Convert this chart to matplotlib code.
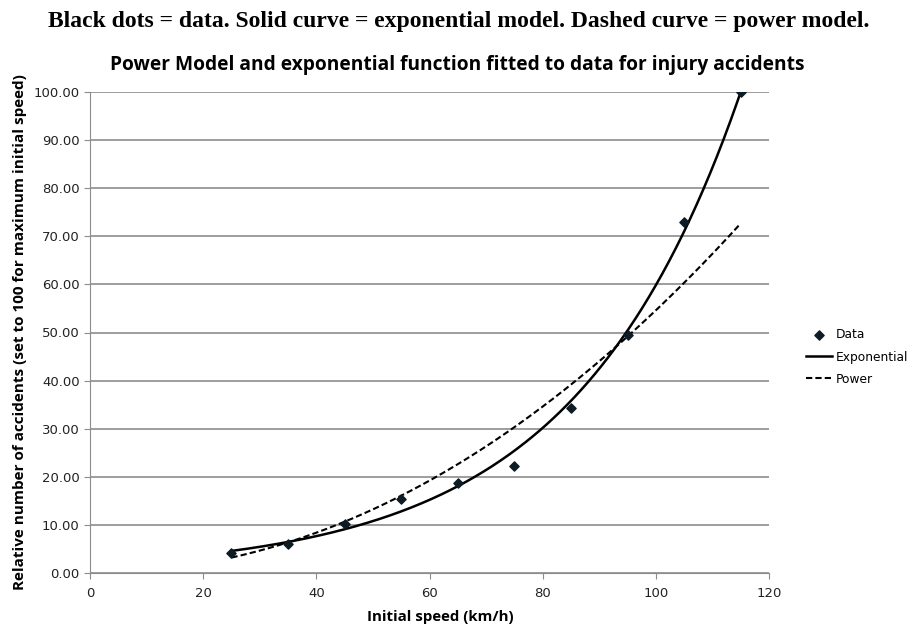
import numpy as np
import matplotlib
matplotlib.use("Agg")
import matplotlib.pyplot as plt

speed = [25, 35, 45, 55, 65, 75, 85, 95, 105, 115]
accidents = [4.2, 6.0, 10.2, 15.3, 18.7, 22.3, 34.3, 49.5, 72.9, 100.0]
y_ticks = [0, 10, 20, 30, 40, 50, 60, 70, 80, 90, 100]
x_ticks = [0, 20, 40, 60, 80, 100, 120]

x = np.array(speed, dtype=float)
y = np.array(accidents, dtype=float)
# Fitted models (least squares in log space, like a spreadsheet trendline)
b_exp, lna_exp = np.polyfit(x, np.log(y), 1)
b_pow, lna_pow = np.polyfit(np.log(x), np.log(y), 1)
xs = np.linspace(x.min(), x.max(), 300)
y_exp = np.exp(lna_exp) * np.exp(b_exp * xs)
y_pow = np.exp(lna_pow) * xs ** b_pow

fig = plt.figure(figsize=(9.09, 6.24), dpi=100)
ax = fig.add_axes([90/909, 1-573/624, (769-90)/909, (573-92)/624])

for t in y_ticks:
    ax.axhline(t, color="#8c8c8c", lw=1.2, zorder=0)
ax.plot(xs, y_exp, color="black", lw=1.8, label="Exponential")
ax.plot(xs, y_pow, color="black", lw=1.5, ls=(0, (3, 1.5)), label="Power")
ax.scatter(x, y, marker="D", s=22, color="#0d1b24", zorder=3, label="Data")

ax.set_xlim(0, 120)
ax.set_ylim(0, 100)
ax.set_xticks(x_ticks)
ax.set_yticks(y_ticks)
ax.set_yticklabels([f"{v:.2f}" for v in y_ticks])
for s in ["top", "right"]:
    ax.spines[s].set_visible(False)
ax.spines["left"].set_color("#8c8c8c")
ax.spines["bottom"].set_color("#8c8c8c")
ax.tick_params(colors="#8c8c8c", labelcolor="#222222", labelsize=9.5, length=4)
ax.tick_params(axis="x", pad=6)

ax.set_xlabel("Initial speed (km/h)", fontsize=10.8, fontweight="bold", family="Open Sans", labelpad=2)
ax.xaxis.set_label_coords((440-90)/679, -0.04 - (612-592)/481 + 0.005)
ax.set_ylabel("Relative number of accidents (set to 100 for maximum initial speed)",
              fontsize=11, fontweight="bold", family="Open Sans", labelpad=5)

fig.text(459/909, 1-22/624, "Black dots = data. Solid curve = exponential model. Dashed curve = power model.",
         ha="center", va="center", fontsize=17, fontweight="bold", family="Liberation Serif")
fig.text(457/909, 1-65/624, "Power Model and exponential function fitted to data for injury accidents",
         ha="center", va="center", fontsize=13.8, fontweight="bold", family="Open Sans")

handles, labels = ax.get_legend_handles_labels()
order = [2, 0, 1]
ax.legend([handles[i] for i in order], [labels[i] for i in order],
          loc="center left", bbox_to_anchor=(800/909, 1-357/624), bbox_transform=fig.transFigure,
          frameon=False, fontsize=8.8, handlelength=2.1, handletextpad=0.35, labelspacing=0.75,
          borderpad=0)

fig.savefig("out.png", dpi=100)
